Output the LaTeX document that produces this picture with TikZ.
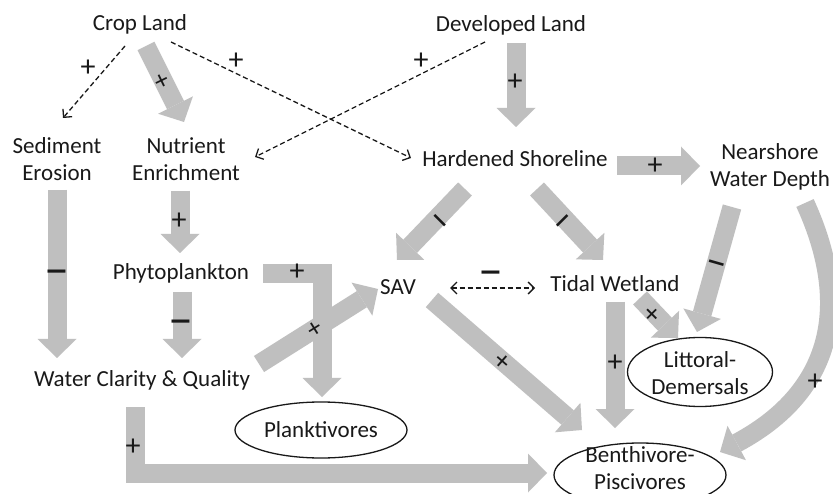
\documentclass[tikz,border=0pt]{standalone}
\usepackage{fontspec}
\setmainfont{Carlito}
\usetikzlibrary{arrows.meta,shapes.geometric}
\definecolor{blkgray}{RGB}{191,191,191}
\definecolor{txt}{RGB}{25,25,25}
\begin{document}
\begin{tikzpicture}[x=1pt,y=-1pt,
  lbl/.style={font=\fontsize{23}{27}\selectfont, text=txt, inner sep=0pt},
  ml/.style={lbl, align=center},
  sgn/.style={font=\fontsize{30}{30}\selectfont, text=txt, inner sep=0pt},
  rsg/.style={font=\fontsize{27}{27}\selectfont, text=txt, inner sep=0pt},
  mns/.style={font=\fontsize{50}{50}\selectfont, text=txt, inner sep=0pt},
  dmn/.style={font=\fontsize{42}{42}\selectfont, text=txt, inner sep=0pt},
  smx/.style={font=\fontsize{28}{28}\selectfont, text=txt, inner sep=0pt},
  dsh/.style={draw=txt, line width=1.3pt, dash pattern=on 5pt off 3pt, -{Straight Barb[length=6pt,width=12pt]}},
  blk/.style={draw=blkgray, line width=19pt, line join=miter, -{Triangle[width=39pt,length=19pt,line width=0pt]}},
  oval/.style={ellipse, draw=txt, line width=1.3pt, inner sep=0pt}
]
\useasboundingbox (0,0) rectangle (833,494);
\fill[white] (0,0) rectangle (833,494);

% ---- text nodes
\node[lbl, anchor=base] (crop) at (140,31) {Crop Land};
\node[lbl, anchor=base] (dev) at (511,32) {Developed Land};
\node[ml] (sed) at (57,162) {\strut Sediment\\\strut Erosion};
\node[ml] (nut) at (186,162) {\strut Nutrient\\\strut Enrichment};
\node[lbl, anchor=base] (hard) at (515,167) {Hardened Shoreline};
\node[ml] (near) at (770,168) {\strut Nearshore\\\strut Water Depth};
\node[lbl, anchor=base] (phyto) at (181,280) {Phytoplankton};
\node[lbl, anchor=base] (water) at (142,387) {Water Clarity \& Quality};
\node[lbl, anchor=base] (sav) at (398,295) {SAV};
\node[lbl, anchor=base] (tidal) at (615,292) {Tidal Wetland};
\node[oval, lbl, minimum width=172pt, minimum height=56pt] (plank) at (321,430) {Planktivores};
\node[oval, minimum width=145pt, minimum height=69pt] (litt) at (700,372) {};
\node[ml] (litttxt) at (700,376) {\strut Littoral-\\\strut Demersals};
\node[oval, minimum width=172pt, minimum height=64pt] (benth) at (640,475) {};
\node[ml] (benthtxt) at (640,471) {\strut Benthivore-\\\strut Piscivores};

% ---- connector end points
\coordinate (crop-s1) at (125,46);   \coordinate (sed-n)  at (63,118);
\coordinate (crop-s2) at (171,42);   \coordinate (hard-w) at (411,158);
\coordinate (dev-s1)  at (485,42);   \coordinate (nut-e)  at (255,157);
\coordinate (sav-e)   at (450,288);  \coordinate (tidal-w) at (535,288);
\coordinate (crop-s3) at (146,46);   \coordinate (nut-n)  at (184,122);
\coordinate (dev-s2)  at (516,43);   \coordinate (hard-n) at (516,127);
\coordinate (hard-e)  at (617,166);  \coordinate (near-w) at (700,166);
\coordinate (sed-s)   at (57,190);   \coordinate (water-n1) at (57,358);
\coordinate (nut-s)   at (180,191);  \coordinate (phyto-n) at (180,253);
\coordinate (phyto-s) at (182,292);  \coordinate (water-n2) at (182,358);
\coordinate (phyto-e) at (263,274);  \coordinate (plank-n) at (322,397);
\coordinate (water-e) at (259,364);  \coordinate (sav-sw) at (378,289);
\coordinate (water-s) at (135,407);  \coordinate (benth-w) at (547,473);
\coordinate (hard-s1) at (465,189);  \coordinate (sav-n)  at (397,260);
\coordinate (hard-s2) at (537,189);  \coordinate (tidal-n) at (603,260);
\coordinate (near-s1) at (732,207);  \coordinate (litt-n) at (697,332);
\coordinate (near-s2) at (805,203);  \coordinate (benth-ne) at (720,452);
\coordinate (tidal-s1) at (640,298); \coordinate (litt-nw) at (678,338);
\coordinate (tidal-s2) at (615,302); \coordinate (benth-n) at (615,428);
\coordinate (sav-se)  at (432,300);  \coordinate (benth-nw) at (582,430);

% ---- block arrows
\draw[blk] (crop-s3) -- (nut-n);
\draw[blk] (dev-s2) -- (hard-n);
\draw[blk] (hard-e) -- (near-w);
\draw[blk] (sed-s) -- (water-n1);
\draw[blk] (nut-s) -- (phyto-n);
\draw[blk] (phyto-s) -- (water-n2);
\draw[blk] (phyto-e) -| (plank-n);
\draw[blk] (water-e) -- (sav-sw);
\draw[blk] (water-s) |- (benth-w);
\draw[blk] (hard-s1) -- (sav-n);
\draw[blk] (hard-s2) -- (tidal-n);
\draw[blk] (near-s1) -- (litt-n);
\draw[blk] (near-s2) .. controls (845,290) and (845,385) .. (benth-ne);
\draw[blk] (tidal-s1) -- (litt-nw);
\draw[blk] (tidal-s2) -- (benth-n);
\draw[blk] (sav-se) -- (benth-nw);

% ---- dashed arrows
\draw[dsh] (crop-s1) -- (sed-n);
\draw[dsh] (crop-s2) -- (hard-w);
\draw[dsh] (dev-s1) -- (nut-e);
\draw[dsh, {Straight Barb[length=6pt,width=12pt]}-{Straight Barb[length=6pt,width=12pt]}] (sav-e) -- (tidal-w);

% ---- signs
\node[sgn] (s1) at (88,68) {+};
\node[sgn] (s2) at (236,61) {+};
\node[sgn] (s3) at (421,61) {+};
\node[rsg, rotate=26] (s4) at (162,82) {+};
\node[sgn] (s5) at (515,82) {+};
\node[sgn] (s6) at (655,166) {+};
\node[mns] (s7) at (57,278) {–};
\node[sgn] (s8) at (179,221) {+};
\node[mns] (s9) at (181,328) {–};
\node[sgn] (s10) at (297,272) {+};
\node[rsg, rotate=32] (s11) at (315,330) {+};
\node[sgn] (s12) at (133,447) {+};
\node[dmn, rotate=-45] (s13) at (436,224) {–};
\node[dmn, rotate=45] (s14) at (566,225) {–};
\node[dmn, rotate=-16] (s15) at (715,268) {–};
\node[sgn] (s16) at (815,382) {+};
\node[smx, rotate=45] (s17) at (653,315) {+};
\node[sgn] (s18) at (615,363) {+};
\node[smx, rotate=-41] (s19) at (502,362) {+};
\node[mns] (s20) at (491,279) {–};
\end{tikzpicture}
\end{document}
